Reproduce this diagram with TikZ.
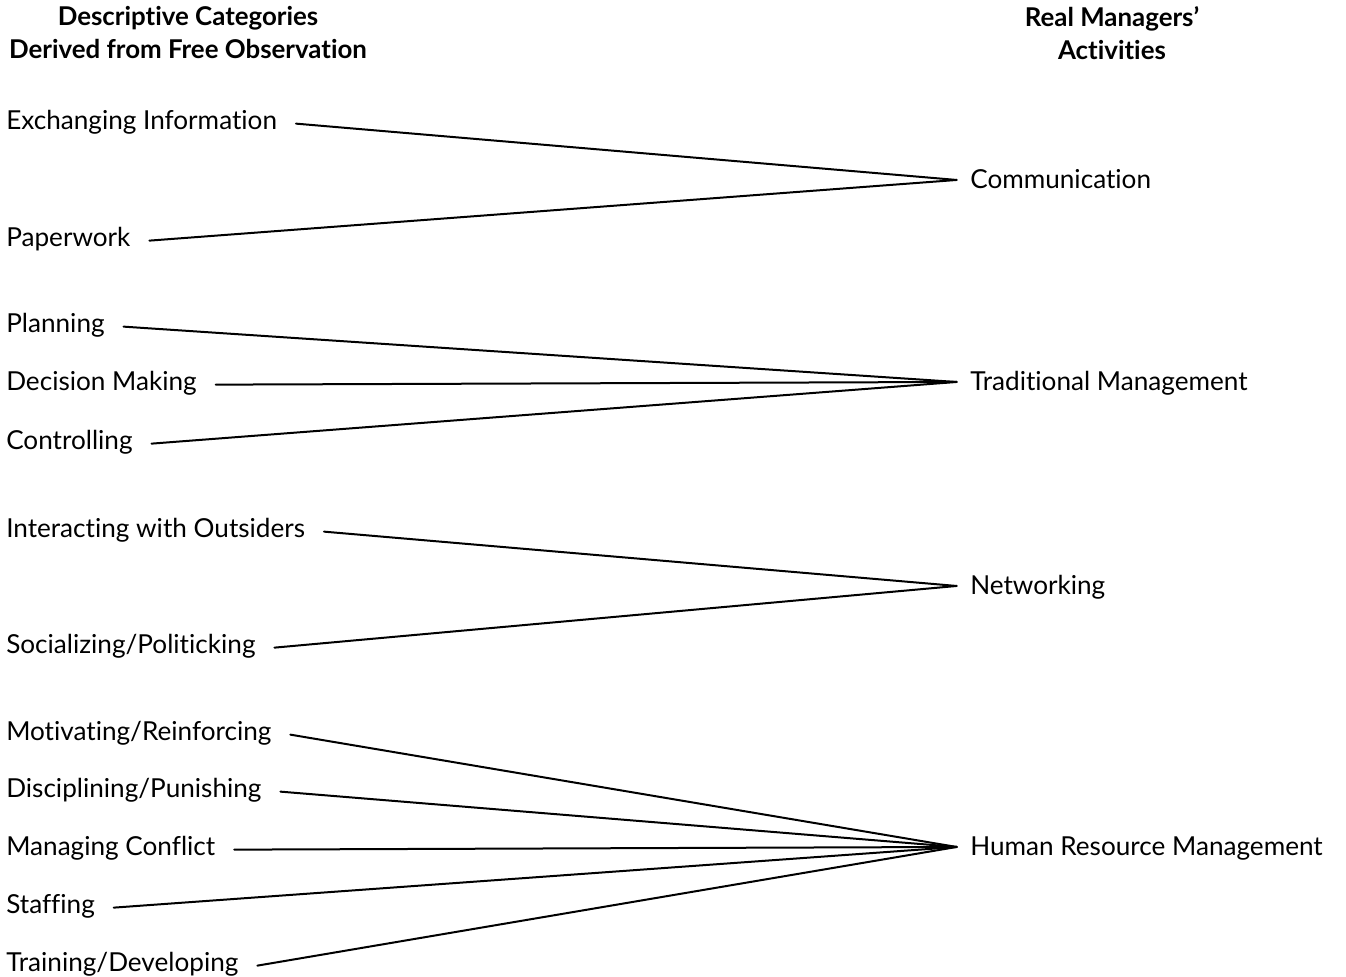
\documentclass[tikz,border=0pt]{standalone}
\usepackage{fontspec}
\setmainfont{Lato}[Ligatures=NoCommon]

\tikzset{
	cat/.style={anchor=base west, inner sep=0pt, font=\fontsize{19.6}{22}\selectfont},
	act/.style={anchor=base west, inner sep=0pt, font=\fontsize{19.6}{22}\selectfont},
	head/.style={anchor=north, align=center, inner sep=0pt, font=\bfseries\fontsize{19.4}{25}\selectfont},
	link/.style={line width=1.5pt, line cap=round}
}

\begin{document}
\begin{tikzpicture}[x=0.75pt, y=-0.75pt]
	\useasboundingbox (0,0) rectangle (1346,976);

	% headings
	\node[head] (hl) at (188,6) {Descriptive Categories\\Derived from Free Observation};
	\node[head] (hr) at (1112,6) {Real Managers'\\Activities};

	% activities
	\node[act] (com) at (970,188) {Communication};
	\node[act] (trad) at (970,390) {Traditional Management};
	\node[act] (net) at (970,594) {Networking};
	\node[act] (hrm) at (970,855) {Human Resource Management};

	% categories
	\node[cat] (exch) at (6,129) {Exchanging Information};
	\node[cat] (paper) at (6,246) {Paperwork};
	\node[cat] (plan) at (6,332) {Planning};
	\node[cat] (dec) at (6,390) {Decision Making};
	\node[cat] (ctrl) at (6,449) {Controlling};
	\node[cat] (inter) at (6,537) {Interacting with Outsiders};
	\node[cat] (soc) at (6,653) {Socializing/Politicking};
	\node[cat] (mot) at (6,740) {Motivating/Reinforcing};
	\node[cat] (disc) at (6,797) {Disciplining/Punishing};
	\node[cat] (conf) at (6,855) {Managing Conflict};
	\node[cat] (staff) at (6,913) {Staffing};
	\node[cat] (train) at (6,971) {Training/Developing};

	% links
	\foreach \a/\b in {exch/com, paper/com, plan/trad, dec/trad, ctrl/trad,
		inter/net, soc/net, mot/hrm, disc/hrm, conf/hrm, staff/hrm, train/hrm}
		\draw[link] ([xshift=14pt, yshift=1.5pt]\a.mid east) -- ([xshift=-10pt, yshift=3.5pt]\b.mid west);

\end{tikzpicture}
\end{document}
